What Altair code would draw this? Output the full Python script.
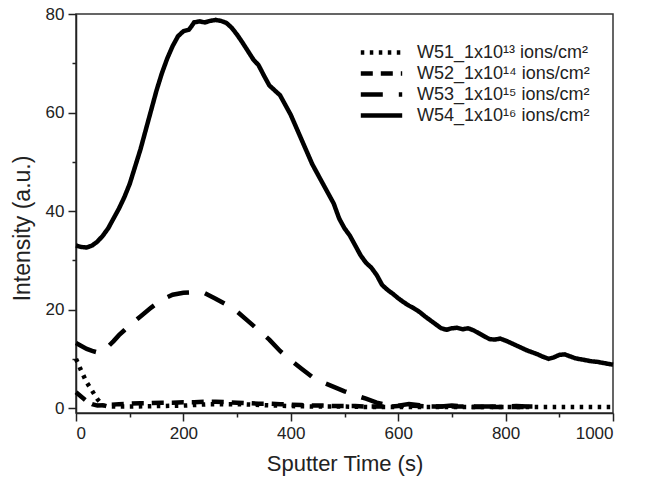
import altair as alt
import pandas as pd

series_names = [
    "W51_1x10¹³ ions/cm²",
    "W52_1x10¹⁴ ions/cm²",
    "W53_1x10¹⁵ ions/cm²",
    "W54_1x10¹⁶ ions/cm²",
]

w51_t = [0, 10, 20, 30, 40, 50, 60, 80, 100, 150, 200, 250, 300, 350, 400, 450, 500,
         550, 600, 650, 700, 750, 800, 850, 900, 950, 1000]
w51_i = [10.0, 7.5, 5.2, 3.5, 1.8, 0.6, 0.3, 0.3, 0.3, 0.4, 0.5, 0.8, 0.8, 0.6, 0.4, 0.3, 0.3,
         0.2, 0.2, 0.2, 0.2, 0.2, 0.2, 0.2, 0.2, 0.2, 0.2]

w52_t = [0, 10, 20, 30, 40, 60, 80, 100, 120, 140, 160, 180, 200, 220, 240, 260, 280, 300,
         320, 340, 360, 380, 400, 420, 440, 460, 480, 500, 520, 540, 560, 580, 600, 620,
         640, 660, 680, 700, 720, 740, 760, 780, 800, 820, 840]
w52_i = [3.2, 2.3, 1.4, 0.8, 0.5, 0.6, 0.8, 0.9, 1.0, 1.0, 1.1, 1.1, 1.2, 1.2, 1.3, 1.3, 1.2, 1.1,
         1.0, 0.9, 0.9, 0.8, 0.7, 0.6, 0.5, 0.5, 0.4, 0.4, 0.4, 0.3, 0.3, 0.3, 0.4, 0.5,
         0.4, 0.3, 0.3, 0.3, 0.3, 0.2, 0.2, 0.2, 0.2, 0.2, 0.2]

w53_t = [0, 10, 20, 30, 40, 50, 60, 70, 80, 90, 100, 120, 140, 160, 180, 200, 220, 240, 260,
         280, 300, 320, 340, 360, 380, 400, 420, 440, 460, 480, 500, 520, 540, 560, 580,
         600, 620, 640, 660, 680, 700, 720, 740, 760, 780, 800, 820, 840, 850]
w53_i = [13.2, 12.6, 12.0, 11.6, 11.3, 11.5, 12.5, 13.6, 14.8, 15.8, 16.8, 18.6, 20.4, 22.0,
         23.0, 23.4, 23.5, 23.3, 22.2, 21.0, 19.6, 17.7, 15.8, 13.9, 11.6, 9.7, 8.0, 6.3,
         5.2, 4.3, 3.4, 2.6, 1.9, 1.1, 0.6, 0.5, 0.8, 0.6, 0.3, 0.3, 0.5, 0.4, 0.3, 0.3,
         0.3, 0.3, 0.4, 0.3, 0.3]

w54_t = [0, 10, 20, 30, 40, 50, 60, 70, 80, 90, 100, 110, 120, 130, 140, 150, 160, 170, 180,
         190, 200, 210, 215, 220, 230, 240, 250, 260, 270, 280, 290, 300, 310, 320, 330,
         340, 350, 360, 370, 380, 390, 400, 410, 420, 430, 440, 450, 460, 470, 480, 490,
         500, 510, 520, 530, 540, 550, 560, 570, 580, 590, 600, 610, 620, 630, 640, 650,
         660, 670, 680, 690, 700, 710, 720, 730, 740, 750, 760, 770, 780, 790, 800, 810,
         820, 830, 840, 850, 860, 870, 880, 890, 900, 910, 920, 930, 940, 950, 960, 970,
         980, 990, 1000]
w54_i = [33.0, 32.7, 32.6, 33.0, 33.8, 35.0, 36.5, 38.5, 40.5, 42.8, 45.5, 49.0, 52.5, 56.5,
         60.5, 64.5, 68.0, 71.0, 73.5, 75.5, 76.5, 76.8, 77.5, 78.3, 78.5, 78.3, 78.6, 78.8,
         78.6, 78.2, 77.2, 75.8, 74.2, 72.5, 70.8, 69.6, 67.5, 65.5, 64.5, 63.5, 61.5, 59.5,
         57.0, 54.5, 52.0, 49.5, 47.5, 45.5, 43.5, 41.5, 38.5, 36.5, 35.0, 33.0, 31.0, 29.5,
         28.5, 27.0, 25.0, 24.0, 23.2, 22.3, 21.5, 20.8, 20.2, 19.5, 18.6, 17.8, 17.0, 16.2,
         15.9, 16.2, 16.3, 16.0, 16.2, 15.8, 15.2, 14.6, 14.0, 13.9, 14.1, 13.7, 13.2, 12.7,
         12.2, 11.7, 11.3, 10.9, 10.4, 10.0, 10.3, 10.8, 10.9, 10.5, 10.1, 9.9, 9.7, 9.5,
         9.4, 9.2, 9.0, 8.8]

x_ticks = list(range(0, 1001, 100))
y_ticks = list(range(0, 81, 10))

rows = []
for name, ts, vs in zip(series_names, [w51_t, w52_t, w53_t, w54_t], [w51_i, w52_i, w53_i, w54_i]):
    for t, v in zip(ts, vs):
        rows.append({"series": name, "t": t, "intensity": v})
df = pd.DataFrame(rows)

dash_range = [[3.5, 5.5], [12, 8], [22, 16], [1, 0]]

font = "Liberation Sans"
ink = "#222222"

chart = alt.Chart(df).mark_line(color="black", strokeWidth=4.5, clip=False).encode(
    x=alt.X("t:Q", title="Sputter Time (s)",
            scale=alt.Scale(domain=[0, 1000], nice=False, zero=False),
            axis=alt.Axis(values=x_ticks, format="d",
                          labelExpr="datum.value % 200 === 0 ? datum.label : ''",
                          tickSize={"condition": {"test": "datum.value % 200 === 0", "value": 8}, "value": 4},
                          titlePadding=12, titleFontSize=22)),
    y=alt.Y("intensity:Q", title="Intensity (a.u.)",
            scale=alt.Scale(domain=[-1, 80], nice=False, zero=False),
            axis=alt.Axis(values=y_ticks, format="d",
                          labelExpr="datum.value % 20 === 0 ? datum.label : ''",
                          tickSize={"condition": {"test": "datum.value % 20 === 0", "value": 8}, "value": 4},
                          titlePadding=11, titleFontSize=23, titleY=214)),
    strokeDash=alt.StrokeDash("series:N",
                              scale=alt.Scale(domain=series_names, range=dash_range),
                              legend=alt.Legend(title=None, orient="none", legendX=294, legendY=27,
                                                symbolType="M-2.3,0H2.3", symbolSize=324,
                                                symbolStrokeWidth=4.5, symbolStrokeColor="black",
                                                labelFont=font, labelFontSize=18, labelColor=ink,
                                                labelOffset=24, labelLimit=400,
                                                rowPadding=0, padding=0)),
    detail="series:N",
).properties(
    width=537, height=399,
    autosize=alt.AutoSizeParams(type="none"),
    padding={"left": 68, "top": 6, "right": 29, "bottom": 63},
).configure_view(
    stroke="#333333", strokeWidth=1.5
).configure_axis(
    grid=False, domainColor=ink, domainWidth=1.5, tickColor=ink, tickWidth=1.5,
    labelFont=font, labelFontSize=17, labelColor=ink, labelPadding=4,
    titleFont=font, titleFontWeight="normal", titleColor=ink,
)

chart.save("out.html", embed_options={"renderer": "svg", "actions": False})
